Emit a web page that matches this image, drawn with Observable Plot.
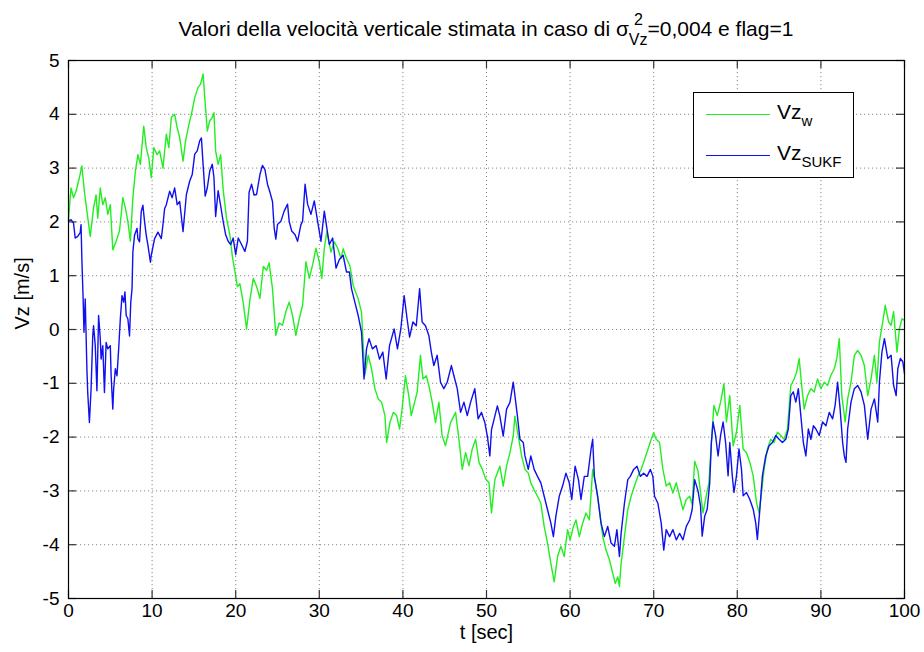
<!DOCTYPE html>
<html>
<head>
<meta charset="utf-8">
<script src="https://cdn.jsdelivr.net/npm/d3@7"></script>
<script src="https://cdn.jsdelivr.net/npm/@observablehq/plot@0.6"></script>
<style>
  body { margin: 0; background: #fff; }
  #fig { position: relative; width: 924px; height: 652px; background: #fff; }
  #title {
    position: absolute; left: 68px; width: 836px; top: 17px; height: 24px; line-height: 24px;
    text-align: center; font-family: "Liberation Sans", Arial, sans-serif;
    font-size: 21px; color: #000; white-space: nowrap;
  }
  #title .sub { font-size: 16px; line-height: 0; vertical-align: -9px; }
  #title .sup { font-size: 16px; line-height: 0; vertical-align: 11px; margin-left: -13.5px; margin-right: 4.5px; }
  #legend {
    position: absolute; left: 693px; top: 92px; width: 159px; height: 84px;
    border: 1px solid #000; background: #fff;
    font-family: "Liberation Sans", Arial, sans-serif; color: #000;
  }
  .item { position: absolute; left: 12px; height: 30px; }
  .item .sw { position: absolute; left: 0; width: 64px; height: 0; border-top: 1.3px solid; }
  .item .lab { position: absolute; left: 71px; top: -14px; font-size: 21px; white-space: nowrap; }
  .item .lab sub { font-size: 15px; vertical-align: -7px; }
</style>
</head>
<body>
<div id="fig">
  <div id="title">Valori della velocità verticale stimata in caso di σ<span class="sub">Vz</span><span class="sup">2</span>=0,004 e flag=1</div>
  <div id="chart"></div>
  <div id="legend">
    <div class="item" style="top:21px"><div class="sw" style="border-color:#22ee22"></div><div class="lab">Vz<sub>w</sub></div></div>
    <div class="item" style="top:62px"><div class="sw" style="border-color:#1010ee"></div><div class="lab">Vz<sub>SUKF</sub></div></div>
  </div>
</div>
<script>
// Time axis ticks and vertical-speed ticks
const xTicks = [0, 10, 20, 30, 40, 50, 60, 70, 80, 90, 100];
const yTicks = [-5, -4, -3, -2, -1, 0, 1, 2, 3, 4, 5];

// Vz_w : reference vertical speed [m/s] vs time [s]
const tW = [0,0.3,0.6,0.9,1.3,1.6,1.9,2.2,2.6,3.0,3.3,3.5,3.8,4.1,4.4,4.7,5.0,5.3,5.7,6.1,6.5,6.8,7.1,7.4,7.7,8.0,8.3,8.6,9.0,9.3,9.6,9.9,10.2,10.6,10.9,11.3,11.7,12.0,12.3,12.7,13.0,13.3,13.7,14.0,14.4,14.7,15.1,15.5,15.8,16.1,16.3,16.6,16.9,17.2,17.4,17.6,17.9,18.2,18.5,18.9,19.3,19.6,19.9,20.2,20.5,20.9,21.3,21.7,22.1,22.5,22.9,23.3,23.7,24.0,24.4,24.8,25.2,25.6,26.0,26.4,26.8,27.2,27.6,28.0,28.4,28.8,29.2,29.6,30.0,30.3,30.6,30.9,31.4,31.8,32.2,32.6,32.85,33.25,33.65,34.05,34.65,35.05,35.45,35.85,36.25,36.65,37.05,37.45,37.85,38.05,38.45,38.85,39.25,39.6,39.9,40.3,40.7,41.0,41.4,41.7,42.1,42.4,42.8,43.1,43.5,43.9,44.3,44.7,45.1,45.7,46.3,46.7,47.1,47.5,47.9,48.3,48.7,49.1,49.5,49.9,50.3,50.6,51.0,51.6,52.0,52.4,52.8,53.2,53.4,53.8,54.2,54.6,55.0,55.3,55.7,56.1,56.5,56.9,57.3,57.7,58.1,58.5,58.9,59.3,59.7,60.0,60.4,60.7,61.1,61.5,61.9,62.3,62.7,63.1,63.5,63.9,64.3,64.7,65.1,65.4,65.7,65.9,66.1,66.5,66.9,67.3,67.7,68.1,68.5,68.9,69.3,69.7,70.0,70.3,70.7,71.1,71.5,71.9,72.3,72.7,73.1,73.5,73.9,74.3,74.6,74.9,75.3,75.6,75.9,76.2,76.6,76.9,77.2,77.6,78.0,78.4,78.7,79.1,79.5,79.9,80.3,80.7,81.1,81.5,81.9,82.3,82.6,82.9,83.2,83.6,84.0,84.4,84.8,85.2,85.6,86.0,86.4,86.8,87.1,87.4,87.7,88.0,88.4,88.8,89.2,89.6,90.0,90.4,90.8,91.2,91.6,91.9,92.2,92.5,92.9,93.2,93.6,94.0,94.4,94.8,95.2,95.6,96.0,96.4,96.7,97.0,97.4,97.7,98.1,98.4,98.7,99.1,99.4,99.7,100];
const vzW = [2.05,2.63,2.45,2.57,2.82,3.04,2.57,2.2,1.73,2.26,2.5,2.07,2.63,2.32,2.45,2.14,2.32,1.48,1.64,1.83,2.45,2.26,2.01,1.64,2.45,2.94,3.25,3.07,3.78,3.38,3.19,2.82,3.38,3.25,3.32,3.0,3.63,3.38,3.94,4.0,3.75,3.57,3.13,3.5,3.81,4.0,4.31,4.5,4.56,4.75,4.31,3.69,3.88,3.94,4.03,3.32,3.07,3.25,2.6,2.07,1.76,1.36,1.08,0.8,0.85,0.5,0.01,0.55,0.95,0.8,0.58,1.17,1.1,1.24,0.76,-0.11,0.12,0.08,0.33,0.51,0.26,-0.11,0.2,0.45,1.26,0.95,1.2,1.51,1.26,0.95,1.51,1.82,1.44,1.63,1.51,1.32,1.5,1.32,1.19,0.82,0.57,0.32,-0.85,-0.48,-0.73,-1.1,-1.29,-1.35,-1.6,-2.1,-1.73,-1.54,-1.6,-1.85,-1.48,-0.86,-1.23,-1.6,-1.35,-1.17,-0.48,-0.92,-0.86,-1.04,-1.35,-1.73,-1.35,-1.98,-2.16,-1.73,-1.54,-2.04,-2.6,-2.29,-2.53,-2.22,-2.04,-2.47,-2.6,-2.78,-2.85,-3.41,-2.79,-2.54,-2.91,-2.54,-2.29,-1.98,-1.61,-1.98,-2.35,-2.6,-2.67,-2.85,-2.98,-3.1,-3.23,-3.66,-3.97,-4.35,-4.69,-4.22,-4.03,-4.22,-3.72,-3.91,-3.66,-3.54,-3.85,-3.6,-3.41,-3.54,-2.6,-2.91,-3.35,-3.85,-4.1,-4.28,-4.53,-4.72,-4.6,-4.78,-4.35,-3.85,-3.35,-3.1,-2.91,-2.73,-2.6,-2.42,-2.23,-2.04,-1.92,-2.04,-2.1,-2.6,-2.91,-2.85,-3.04,-2.85,-3.1,-3.35,-3.16,-3.1,-3.25,-2.45,-2.63,-3.03,-3.41,-3.16,-2.85,-2.1,-1.41,-1.6,-1.35,-1.01,-1.72,-1.23,-2.16,-1.91,-1.41,-2.22,-2.29,-2.47,-2.72,-3.22,-3.41,-3.03,-2.6,-2.22,-2.04,-2.1,-1.91,-1.97,-2.04,-1.85,-1.04,-0.92,-0.79,-0.54,-1.04,-1.48,-1.23,-1.1,-1.16,-0.92,-1.1,-0.98,-1.04,-0.85,-0.73,-0.54,-0.17,-1.23,-1.72,-1.29,-0.98,-0.48,-0.39,-0.48,-0.67,-1.23,-0.92,-0.48,-0.98,-0.23,0.14,0.45,0.14,0.08,0.33,-0.42,0.02,0.2,0.17];

// Vz_SUKF : filter estimate of vertical speed [m/s] vs time [s]
const tS = [0,0.3,0.6,0.8,1.1,1.4,1.5,1.6,1.75,1.85,2.0,2.2,2.3,2.5,2.7,2.9,3.0,3.2,3.4,3.6,3.8,3.9,4.1,4.3,4.5,4.7,5.0,5.1,5.3,5.4,5.6,5.8,6.0,6.2,6.4,6.6,6.75,6.9,7.1,7.3,7.45,7.6,7.7,7.9,8.2,8.3,8.5,8.7,8.9,9.1,9.3,9.5,9.8,9.9,10.3,10.7,11.1,11.3,11.5,11.7,12.1,12.4,12.7,13.0,13.3,13.7,14.1,14.5,14.8,15.1,15.4,15.7,15.9,16.1,16.35,16.6,16.9,17.2,17.4,17.6,17.9,18.2,18.5,18.8,19.1,19.4,19.7,20.0,20.3,20.7,21.1,21.4,21.6,21.9,22.2,22.5,22.7,22.9,23.2,23.5,23.8,24.1,24.4,24.6,24.8,25.0,25.4,25.8,26.2,26.4,26.7,27.1,27.4,27.8,28.0,28.3,28.6,29.0,29.4,29.8,30.2,30.6,30.9,31.2,31.6,32.0,32.4,32.85,33.25,33.6,33.85,34.25,34.65,35.05,35.35,35.65,35.95,36.35,36.8,37.2,37.6,38.0,38.4,38.95,39.35,39.75,40.15,40.5,40.8,41.2,41.6,42.0,42.3,42.7,43.1,43.4,43.7,44.1,44.5,44.9,45.3,45.8,46.1,46.5,46.9,47.3,47.7,48.1,48.6,49.0,49.4,49.8,50.1,50.4,50.6,51.0,51.3,51.6,52.0,52.4,52.8,53.2,53.4,53.7,54.0,54.4,54.6,55.0,55.3,55.7,56.1,56.5,56.9,57.3,57.7,58.0,58.3,58.7,59.1,59.5,59.9,60.2,60.6,61.0,61.3,61.7,62.1,62.5,62.7,62.9,63.3,63.7,64.1,64.5,64.9,65.3,65.6,65.9,66.1,66.5,66.9,67.2,67.6,68.0,68.4,68.8,69.2,69.6,69.9,70.1,70.5,70.9,71.2,71.5,71.9,72.3,72.7,73.1,73.5,73.9,74.3,74.6,74.9,75.3,75.6,75.8,76.1,76.4,76.7,76.9,77.1,77.4,77.7,78.0,78.3,78.6,78.9,79.1,79.4,79.6,79.9,80.2,80.5,80.7,81.1,81.5,81.9,82.2,82.4,82.7,83.0,83.4,83.8,84.2,84.6,85.0,85.4,85.8,86.1,86.4,86.7,87.0,87.3,87.6,87.9,88.2,88.5,88.8,89.1,89.4,89.8,90.2,90.6,91.0,91.4,91.7,92.0,92.3,92.6,92.8,93.0,93.2,93.6,94.0,94.4,94.8,95.2,95.6,96.0,96.4,96.8,97.0,97.3,97.6,98.0,98.4,98.7,99.0,99.2,99.5,99.8,100];
const vzS = [2.02,2.04,1.98,1.7,1.73,1.8,1.95,1.3,0.57,-0.05,0.57,-0.73,-1.17,-1.73,-1.11,-0.12,0.07,-0.3,-1.14,0.26,-0.17,-0.55,-0.3,-1.17,-0.24,-0.36,-0.3,-0.86,-1.48,-1.11,-0.73,-0.86,-0.36,0.2,0.63,0.51,0.7,0.26,0.2,-0.12,0.51,0.76,1.44,1.75,1.88,1.69,1.63,2.19,2.31,2.0,1.75,1.57,1.25,1.38,1.69,1.81,1.69,1.95,2.25,2.32,2.57,2.45,2.63,2.32,2.38,1.82,2.51,2.76,2.88,3.26,3.32,3.51,3.56,3.07,2.48,2.63,2.95,3.07,2.82,2.1,2.58,2.3,2.01,1.76,1.64,1.58,1.7,1.39,1.7,1.58,1.45,1.64,2.55,2.7,2.5,2.51,2.7,2.88,3.05,2.97,2.7,2.55,2.38,1.89,1.68,1.95,2.01,2.2,2.33,2.01,1.83,1.76,1.64,1.95,2.01,2.7,2.33,2.14,2.39,2.01,1.64,2.2,1.89,1.58,1.7,1.14,1.3,1.38,1.07,1.07,0.76,0.51,0.26,-0.05,-0.92,-0.36,-0.17,-0.36,-0.3,-0.55,-0.42,-0.92,-0.3,0.01,-0.36,0.01,0.63,0.2,-0.14,0.14,0.07,0.76,0.14,0.07,-0.11,-0.42,-0.67,-0.48,-0.98,-1.1,-0.98,-0.67,-0.86,-1.1,-1.54,-1.35,-1.6,-1.35,-1.1,-1.66,-1.54,-1.73,-1.98,-2.35,-1.86,-1.61,-1.42,-1.61,-1.98,-1.48,-1.36,-0.98,-1.23,-1.61,-2.04,-2.1,-2.35,-2.6,-2.35,-2.6,-2.73,-2.85,-3.1,-3.35,-3.6,-3.85,-3.47,-3.1,-2.91,-2.67,-2.85,-3.16,-2.54,-2.79,-3.16,-2.73,-2.73,-2.23,-2.04,-2.73,-3.1,-3.6,-3.85,-3.66,-3.97,-4.03,-3.72,-4.22,-3.79,-3.23,-2.79,-2.73,-2.6,-2.54,-2.73,-2.67,-2.73,-2.6,-2.73,-3.1,-3.23,-3.6,-4.1,-3.72,-3.85,-3.72,-3.91,-3.79,-3.91,-3.66,-3.54,-3.35,-2.79,-3.0,-3.28,-3.84,-3.47,-3.34,-2.85,-2.1,-1.72,-1.97,-2.35,-1.97,-1.72,-2.1,-2.72,-2.1,-2.72,-3.03,-2.72,-2.22,-2.6,-3.09,-3.03,-3.16,-3.34,-3.59,-3.9,-3.34,-2.72,-2.35,-2.16,-2.1,-1.97,-2.04,-2.1,-2.04,-1.85,-1.23,-1.16,-1.35,-1.1,-1.6,-2.1,-2.35,-1.85,-2.04,-1.79,-1.85,-1.97,-1.72,-1.79,-1.54,-1.66,-1.41,-0.98,-1.48,-2.1,-2.35,-2.47,-1.85,-1.35,-1.1,-1.04,-1.16,-1.41,-2.04,-1.48,-1.29,-1.72,-0.98,-0.42,-0.17,-0.54,-0.48,-1.04,-1.23,-0.73,-0.54,-0.6,-0.82];

const font = '"Liberation Sans", Arial, sans-serif';

const chart = Plot.plot({
  width: 924,
  height: 652,
  marginTop: 60,
  marginBottom: 54,
  marginLeft: 68,
  marginRight: 20,
  style: { background: "#fff", color: "#000", fontFamily: font, fontSize: "19px" },
  x: { domain: [0, 100], label: null },
  y: { domain: [-5, 5], label: null },
  marks: [
    Plot.gridX(xTicks, { stroke: "#8a8a8a", strokeOpacity: 1, strokeDasharray: "1.2,2.8" }),
    Plot.gridY(yTicks, { stroke: "#8a8a8a", strokeOpacity: 1, strokeDasharray: "1.2,2.8" }),
    Plot.lineY(vzW, { x: tW, stroke: "#22ee22", strokeWidth: 1.4 }),
    Plot.lineY(vzS, { x: tS, stroke: "#1010ee", strokeWidth: 1.4 }),
    // inward tick marks on all four sides
    Plot.ruleX(xTicks, { stroke: "#333", strokeWidth: 1.2, insetTop: 530 }),
    Plot.ruleX(xTicks, { stroke: "#333", strokeWidth: 1.2, insetBottom: 530 }),
    Plot.ruleY(yTicks, { stroke: "#333", strokeWidth: 1.2, insetRight: 828 }),
    Plot.ruleY(yTicks, { stroke: "#333", strokeWidth: 1.2, insetLeft: 828 }),
    Plot.frame({ stroke: "#000", strokeWidth: 1.2 }),
    Plot.axisX(xTicks, { tickSize: 0, tickPadding: 5, fontSize: 19, label: null }),
    Plot.axisY(yTicks, { tickSize: 0, tickPadding: 9, fontSize: 19, tickFormat: d => String(d).replace("−", "-"), label: null }),
    Plot.text(["t [sec]"], { frameAnchor: "bottom", dy: 40, fontSize: 20, fill: "#000" }),
    Plot.text(["Vz [m/s]"], { frameAnchor: "left", dx: -46, rotate: -90, fontSize: 20, fill: "#000" })
  ]
});
document.getElementById("chart").appendChild(chart);
</script>
</body>
</html>
